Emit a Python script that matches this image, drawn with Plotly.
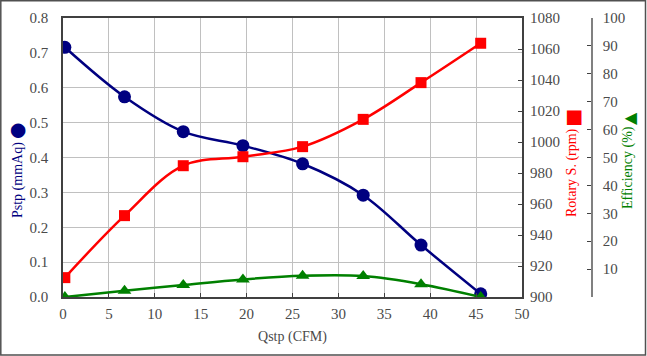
import plotly.graph_objects as go

qstp = [0.2, 6.7, 13.1, 19.6, 26.1, 32.7, 39.0, 45.5]
pstp = [0.716, 0.574, 0.474, 0.434, 0.382, 0.292, 0.149, 0.009]
rpm = [912.5, 952.5, 984.7, 990.5, 997.0, 1014.6, 1038.3, 1063.7]
eff = [0.0, 2.2, 4.3, 6.3, 7.6, 7.5, 4.6, 0.0]

x_ticks = list(range(0, 51, 5))
eff_ticks = list(range(0, 101, 10))
eff_text = [""] + [str(v) for v in eff_ticks[1:]]

FONT = "Liberation Serif, Times New Roman, serif"
TICKC = "#4a4a4a"
L, R, T, B = 63, 55, 18, 59
W, H = 647, 356
PW = W - L - R
PH = H - T - B
dom_end = (522 - L) / PW

def px(xp):
    return (xp - L) / PW

def py(yp):
    return (T + PH - yp) / PH

fig = go.Figure()
fig.add_trace(go.Scatter(x=qstp, y=pstp, mode="lines+markers", line=dict(color="#000080", width=2.5, shape="spline"),
                         marker=dict(symbol="circle", size=13, color="#000080"), yaxis="y", showlegend=False))
fig.add_trace(go.Scatter(x=qstp, y=rpm, mode="lines+markers", line=dict(color="#ff0000", width=2.5, shape="spline"),
                         marker=dict(symbol="square", size=11, color="#ff0000"), yaxis="y2", showlegend=False))
fig.add_trace(go.Scatter(x=qstp, y=eff, mode="lines+markers", line=dict(color="#008000", width=2.5, shape="spline"),
                         marker=dict(symbol="triangle-up", size=12, color="#008000"), yaxis="y3", showlegend=False))

tf = dict(family=FONT, size=15, color=TICKC)
fig.update_layout(
    template="none",
    width=W, height=H,
    margin=dict(l=L, r=R, t=T, b=B, autoexpand=False),
    paper_bgcolor="white", plot_bgcolor="white",
    font=dict(family=FONT, size=14, color=TICKC),
    xaxis=dict(domain=[0, dom_end], range=[0, 50], tickvals=x_ticks, showgrid=True, gridcolor="#c0c0c0", gridwidth=1,
               showline=True, linecolor="#404040", linewidth=1.5, mirror=True, ticks="inside", ticklen=4,
               tickcolor="#404040", zeroline=False, automargin=False, tickfont=tf, ticklabelstandoff=2,
               title=dict(text="Qstp (CFM)", font=dict(family=FONT, size=14, color=TICKC), standoff=10)),
    yaxis=dict(range=[0, 0.8], dtick=0.1, tickformat=".1f", showgrid=True, gridcolor="#c0c0c0", gridwidth=1,
               showline=True, linecolor="#404040", linewidth=1.5, mirror=True, ticks="", zeroline=False,
               automargin=False, tickfont=tf, ticklabelstandoff=10),
    yaxis2=dict(range=[900, 1080], dtick=20, overlaying="y", side="right", anchor="x", showgrid=False,
                showline=False, ticks="inside", ticklen=4, tickcolor="#404040", zeroline=False,
                automargin=False, tickfont=tf, ticklabelstandoff=7),
    yaxis3=dict(range=[0, 100], tickvals=eff_ticks, ticktext=eff_text, overlaying="y", side="right", anchor="free",
                position=1, showgrid=False, showline=True, linecolor="#808080", linewidth=1.5, ticks="inside",
                ticklen=4, tickcolor="#404040", zeroline=False, automargin=False, tickfont=tf, ticklabelstandoff=7),
)

def vtext(text, x, y, color, size=14, family=FONT):
    fig.add_annotation(text=text, textangle=-90, xref="paper", yref="paper", x=px(x), y=py(y),
                       xanchor="center", yanchor="middle", showarrow=False,
                       font=dict(family=family, size=size, color=color))

vtext("Pstp (mmAq)", 18, 180, "#000080")
vtext("●", 16, 131, "#000080", size=19, family="DejaVu Sans")
vtext("Rotary S. (rpm)", 572, 173, "#ff0000")
vtext("■", 571.5, 118, "#ff0000", size=19, family="DejaVu Sans")
vtext("Efficiency (%)", 628, 168, "#008000")
vtext("▲", 629, 119, "#008000", size=16, family="DejaVu Sans")

fig.add_shape(type="rect", xref="paper", yref="paper", x0=px(0.8), x1=px(645.5), y0=py(355), y1=py(0.8),
              line=dict(color="#505050", width=1.5), fillcolor="rgba(0,0,0,0)", layer="above")

fig.write_html("out.html", config={"displayModeBar": False},
               post_script="document.body.style.margin='0';document.body.style.overflow='hidden';")
